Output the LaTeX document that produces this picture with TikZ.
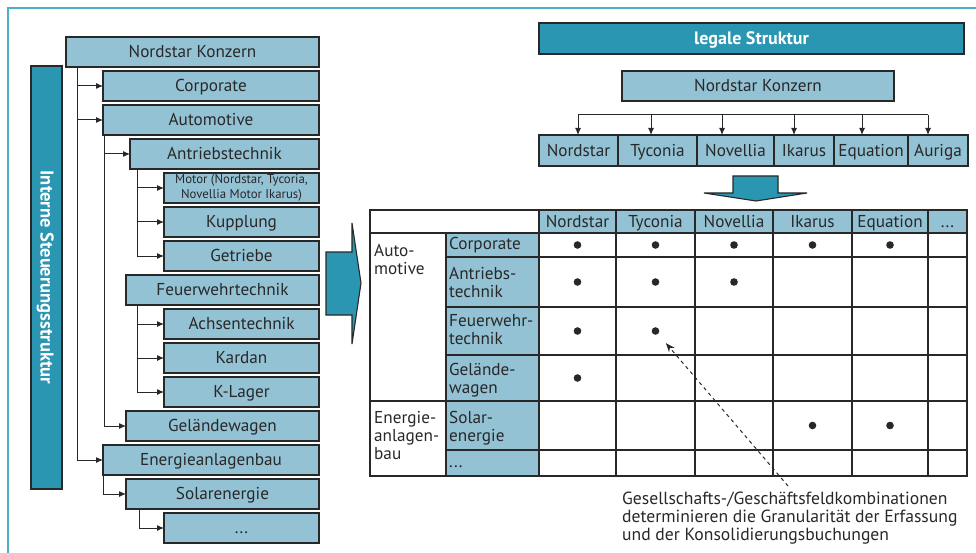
\documentclass[tikz,border=0pt]{standalone}
\usepackage{fontspec}
\setmainfont{PT Sans}
\usetikzlibrary{arrows.meta}
\definecolor{lblue}{RGB}{148,194,213}
\definecolor{tealbar}{RGB}{42,150,177}
\definecolor{ink}{RGB}{40,40,40}
\definecolor{framec}{RGB}{80,175,200}
% \bx[style]{name}{x1}{y1}{x2}{y2}{text}: box from top-left to bottom-right corner
\newcommand\bx[7][box]{\node[#1, anchor=north west, minimum width={(#5-#3)*1pt}, minimum height={(#6-#4)*1pt}] (#2) at (#3,#4) {#7};}
\newcommand\moredots{...}
\begin{document}
\begin{tikzpicture}[x=1pt,y=-1pt,
  every node/.style={text=ink},
  font=\fontsize{17.2}{18}\selectfont,
  capline/.style={text height=11.8pt, text depth=0pt},
  box/.style={draw=ink, line width=1.1pt, fill=lblue, inner sep=0pt, outer sep=0pt, align=center, capline},
  dark/.style={box, fill=tealbar, text=white, font=\fontsize{18}{20}\selectfont\bfseries},
  arr/.style={draw=ink, line width=1pt, -{Latex[length=7pt,width=6pt]}},
  gridline/.style={draw=ink, line width=1.2pt},
  dot/.style={circle, fill=ink, inner sep=0pt, minimum size=7.6pt},
  cell/.style={inner sep=0pt, align=left, anchor=north west},
  bigarrow/.style={fill=tealbar, draw=ink, line width=1.1pt, line join=miter}
]
\useasboundingbox (0,0) rectangle (976,553);

% outer frame (top and left edges)
\draw[framec, line width=2pt] (8,553) -- (8,8) -- (976,8);

% ---------- internal steering structure ----------
\bx[dark]{lbar}{31}{66}{62}{489}{}
\node[rotate=-90, text=white, capline, font=\fontsize{18.5}{20}\selectfont\bfseries] (lbartext) at (lbar.center) {Interne Steuerungsstruktur};

\bx{lkon}{66}{37}{319}{67}{Nordstar Konzern}
\bx{lcorp}{103}{71}{319}{101}{Corporate}
\bx{lauto}{103}{105}{319}{135}{Automotive}
\bx{lantr}{130}{139}{319}{169}{Antriebstechnik}
\bx[box,text height={},text depth={},font=\fontsize{12.8}{14.5}\selectfont]{lmot}{164}{173}{319}{203}{Motor (Nordstar, Tycoria,\\Novellia Motor Ikarus)}
\bx{lkup}{164}{207}{319}{237}{Kupplung}
\bx{lget}{164}{241}{319}{271}{Getriebe}
\bx{lfeu}{126}{275}{319}{305}{Feuerwehrtechnik}
\bx{lachs}{164}{309}{319}{339}{Achsentechnik}
\bx{lkard}{164}{343}{319}{373}{Kardan}
\bx{lklag}{164}{377}{319}{407}{K-Lager}
\bx{lgel}{126}{411}{319}{441}{Geländewagen}
\bx{lener}{103}{445}{319}{475}{Energieanlagenbau}
\bx{lsol}{126}{479}{319}{509}{Solarenergie}
\bx{lmore}{164}{513}{319}{543}{...}

\draw[arr] ([xshift=11pt]lkon.south west) |- (lcorp.west);
\draw[arr] ([xshift=11pt]lkon.south west) |- (lauto.west);
\draw[arr] ([xshift=11pt]lkon.south west) |- (lener.west);
\draw[arr] ([xshift=1pt]lauto.south west) |- (lantr.west);
\draw[arr] ([xshift=1pt]lauto.south west) |- (lgel.west);
\draw[arr] ([xshift=7pt]lantr.south west) |- (lmot.west);
\draw[arr] ([xshift=7pt]lantr.south west) |- (lkup.west);
\draw[arr] ([xshift=7pt]lantr.south west) |- (lget.west);
\draw[arr] ([xshift=11pt]lfeu.south west) |- (lachs.west);
\draw[arr] ([xshift=11pt]lfeu.south west) |- (lkard.west);
\draw[arr] ([xshift=11pt]lfeu.south west) |- (lklag.west);
\draw[arr] ([xshift=0.5pt]lener.south west) |- (lsol.west);
\draw[arr] ([xshift=13pt]lsol.south west) |- (lmore.west);

% transition arrow
\draw[bigarrow] (326,252) -- (352,252) -- (352,223) -- (361,283) -- (352,344) -- (352,315) -- (326,315) -- cycle;

% ---------- legal structure ----------
\bx[dark]{legal}{539}{23}{964}{54}{legale Struktur}
\bx{rkon}{622}{71}{894}{101}{Nordstar Konzern}
\bx{cN}{539}{135}{618}{166}{Nordstar}
\bx{cT}{618}{135}{697}{166}{Tyconia}
\bx{cNo}{697}{135}{774}{166}{Novellia}
\bx{cI}{774}{135}{834}{166}{Ikarus}
\bx{cE}{834}{135}{908}{166}{Equation}
\bx{cA}{908}{135}{968}{166}{Auriga}

\coordinate (b1) at (578,115);
\coordinate (b2) at (651,115);
\coordinate (b3) at (722,115);
\coordinate (b4) at (794,115);
\coordinate (b5) at (862,115);
\coordinate (b6) at (928,115);
\draw[draw=ink, line width=1pt] (b1) -- (b6);
\draw[arr] (b1) -- (b1 |- cN.north);
\draw[arr] (b2) -- (b2 |- cT.north);
\draw[arr] (b3) -- (b3 |- cNo.north);
\draw[arr] (b4) -- (b4 |- cI.north);
\draw[arr] (b5) -- (b5 |- cE.north);
\draw[arr] (b6) -- (b6 |- cA.north);

\draw[bigarrow] (733,176) -- (778,176) -- (778,193) -- (807,193) -- (756,201) -- (704,193) -- (733,193) -- cycle;

% ---------- combination matrix ----------
\fill[lblue] (539,210) rectangle (967,233);
\fill[lblue] (446,233) rectangle (539,476);
\draw[gridline] (370,210) rectangle (967,476);
\draw[gridline] (370,233) -- (967,233);
\draw[gridline] (370,401) -- (967,401);
\foreach \yy in {257,307,355,450} \draw[gridline] (446,\yy) -- (967,\yy);
\draw[gridline] (446,233) -- (446,476);
\foreach \xx in {539,616,695,773,852,928} \draw[gridline] (\xx,210) -- (\xx,476);

\foreach \a/\b/\t/\n in {539/616/Nordstar/hN, 616/695/Tyconia/hT, 695/773/Novellia/hNo, 773/852/Ikarus/hI, 852/928/Equation/hE, 928/967/\moredots/hD}
  \node[inner sep=0pt, capline] (\n) at ({(\a+\b)/2},221.5) {\t};

\node[cell] (gAuto) at (374,244) {Auto-\\motive};
\node[cell] (gEner) at (374,411) {Energie-\\anlagen-\\bau};

\node[cell] (rCorp) at (449,237.5) {Corporate};
\node[cell] (rAntr) at (449,267) {Antriebs-\\technik};
\node[cell] (rFeu) at (449,314) {Feuerwehr-\\technik};
\node[cell] (rGel) at (449,363.5) {Gelände-\\wagen};
\node[cell] (rSol) at (449,411) {Solar-\\energie};
\node[inner sep=0pt, anchor=base west] (rMore) at (449,467) {...};

% company / segment combinations
\foreach \xx/\yy/\n in {577.5/245/dCN, 655.5/245/dCT, 734/245/dCNo, 812.5/245/dCI, 890/245/dCE,
  577.5/282/dAN, 655.5/282/dAT, 734/282/dANo,
  577.5/331/dFN, 655.5/331/dFT,
  577.5/378/dGN,
  812.5/425.5/dSI, 890/425.5/dSE}
  \node[dot] (\n) at (\xx,\yy) {};

% annotation
\node[anchor=north west, inner sep=0pt, align=left, font=\fontsize{17.6}{18}\selectfont] (note) at (622,492) {Gesellschafts-/Geschäftsfeldkombinationen\\determinieren die Granularität der Erfassung\\und der Konsolidierungsbuchungen};
\coordinate (ntail) at (788,486);
\draw[draw=ink, line width=1pt, dash pattern=on 3.5pt off 3.5pt, -{Stealth[length=9pt,width=7pt]}, shorten >=12pt] (ntail) -- (dFT);
\end{tikzpicture}
\end{document}
